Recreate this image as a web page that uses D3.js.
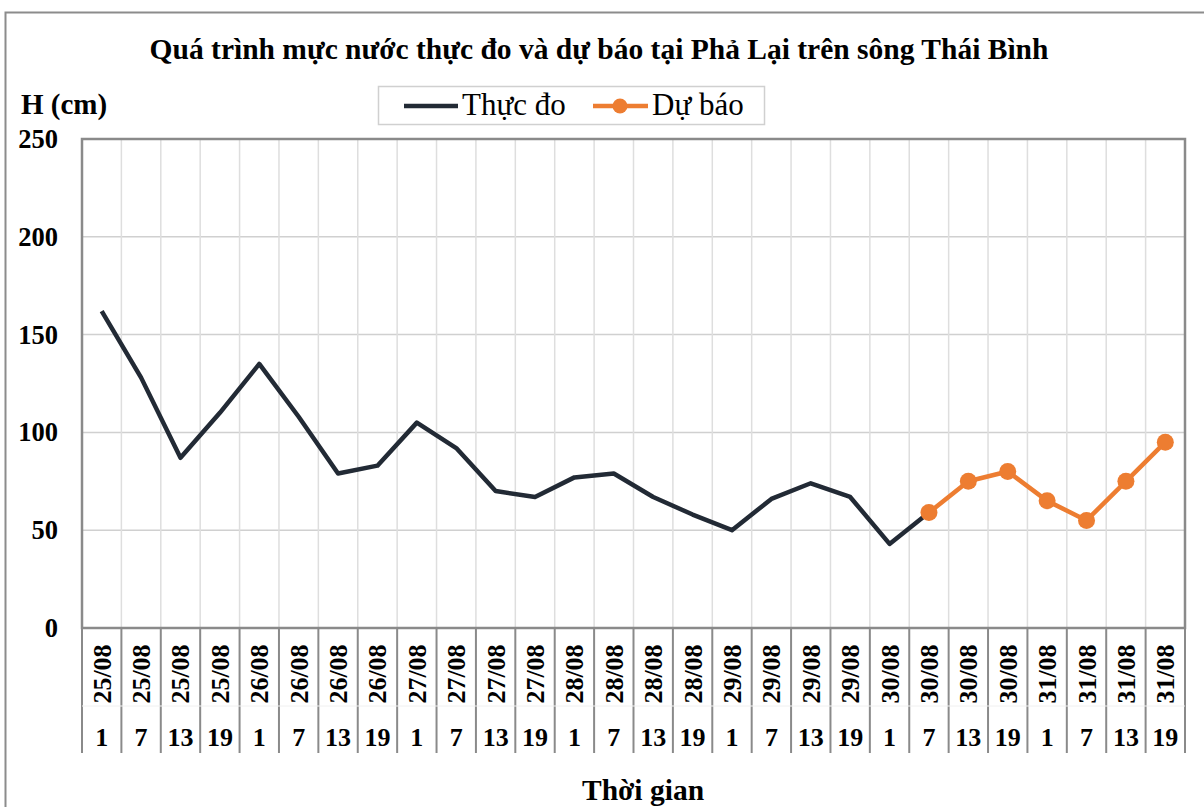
<!DOCTYPE html>
<html>
<head>
<meta charset="utf-8">
<script src="https://cdn.jsdelivr.net/npm/d3@7"></script>
<style>
  body { margin: 0; background: #fff; }
  svg text { font-family: "Liberation Serif", "Times New Roman", serif; fill: #000; }
</style>
</head>
<body>
<svg id="chart" width="1204" height="807"></svg>
<script>
// dates and hours for each category
const dates = ["25/08","25/08","25/08","25/08","26/08","26/08","26/08","26/08",
               "27/08","27/08","27/08","27/08","28/08","28/08","28/08","28/08",
               "29/08","29/08","29/08","29/08","30/08","30/08","30/08","30/08",
               "31/08","31/08","31/08","31/08"]
const hours = ["1","7","13","19","1","7","13","19","1","7","13","19","1","7","13","19",
               "1","7","13","19","1","7","13","19","1","7","13","19"]

// Thực đo (observed), null where missing
const observed = [162, 128, 87, 110, 135, 108, 79, 83, 105, 92, 70, 67, 77, 79, 67, 58,
                  50, 66, 74, 67, 43, 59, null, null, null, null, null, null]
// Dự báo (forecast)
const forecast = [null, null, null, null, null, null, null, null, null, null, null, null,
                  null, null, null, null, null, null, null, null, null, 59, 75, 80, 65, 55, 75, 95]

const yTicks = [0, 50, 100, 150, 200, 250]

const svg = d3.select("#chart")

const plotL = 82, plotR = 1185, plotT = 139, plotB = 628

// outer chart border
svg.append("rect")
    .attr("x", 5.5).attr("y", 12.5)
    .attr("width", 1210).attr("height", 810)
    .attr("fill", "none").attr("stroke", "#8c8c8c").attr("stroke-width", 2)

// scales
const idx = d3.range(dates.length)
const xBand = d3.scaleBand().domain(idx).range([plotL, plotR])
const xScale = d => xBand(d) + xBand.bandwidth() / 2
const yScale = d3.scaleLinear().domain([0, 250]).range([plotB, plotT])

// horizontal gridlines
svg.append("g")
    .selectAll("line")
    .data(yTicks)
    .join("line")
    .attr("x1", plotL).attr("x2", plotR)
    .attr("y1", d => yScale(d)).attr("y2", d => yScale(d))
    .attr("stroke", "#d0d0d0").attr("stroke-width", 1.5)

// vertical gridlines at category boundaries
svg.append("g")
    .selectAll("line")
    .data(idx.slice(1))
    .join("line")
    .attr("x1", d => xBand(d)).attr("x2", d => xBand(d))
    .attr("y1", plotT).attr("y2", plotB)
    .attr("stroke", "#dedede").attr("stroke-width", 1.5)

// plot border
svg.append("rect")
    .attr("x", plotL).attr("y", plotT)
    .attr("width", plotR - plotL).attr("height", plotB - plotT)
    .attr("fill", "none").attr("stroke", "#8a8a8a").attr("stroke-width", 2.5)

// category separators below the axis
svg.append("g")
    .selectAll("line")
    .data(idx.concat([dates.length]))
    .join("line")
    .attr("x1", d => d < dates.length ? xBand(d) : plotR)
    .attr("x2", d => d < dates.length ? xBand(d) : plotR)
    .attr("y1", plotB).attr("y2", 753)
    .attr("stroke", "#8a8a8a").attr("stroke-width", 2)

// faint line between date row and hour row
svg.append("line")
    .attr("x1", plotL).attr("x2", plotR)
    .attr("y1", 706).attr("y2", 706)
    .attr("stroke", "#f0f0f0").attr("stroke-width", 1)

// y tick labels
svg.append("g")
    .selectAll("text")
    .data(yTicks)
    .join("text")
    .attr("x", 58)
    .attr("y", d => yScale(d) + 9)
    .attr("text-anchor", "end")
    .attr("font-size", 26.5).attr("font-weight", "bold")
    .text(d => d)

// date labels (rotated)
svg.append("g")
    .selectAll("text")
    .data(idx)
    .join("text")
    .attr("transform", d => `translate(${xScale(d) + 9},674) rotate(-90)`)
    .attr("text-anchor", "middle")
    .attr("font-size", 26).attr("font-weight", "bold")
    .text(d => dates[d])

// hour labels
svg.append("g")
    .selectAll("text")
    .data(idx)
    .join("text")
    .attr("x", d => xScale(d))
    .attr("y", 746)
    .attr("text-anchor", "middle")
    .attr("font-size", 26).attr("font-weight", "bold")
    .text(d => hours[d])

// lines
const line = d3.line()
    .defined(d => d[1] != null)
    .x(d => xScale(d[0]))
    .y(d => yScale(d[1]))

svg.append("path")
    .datum(idx.map(i => [i, observed[i]]))
    .attr("d", line)
    .attr("fill", "none")
    .attr("stroke", "#222a35").attr("stroke-width", 4.5)
    .attr("stroke-linejoin", "round")

svg.append("path")
    .datum(idx.map(i => [i, forecast[i]]))
    .attr("d", line)
    .attr("fill", "none")
    .attr("stroke", "#ed7d31").attr("stroke-width", 4.5)
    .attr("stroke-linejoin", "round")

svg.append("g")
    .selectAll("circle")
    .data(idx.filter(i => forecast[i] != null))
    .join("circle")
    .attr("cx", d => xScale(d))
    .attr("cy", d => yScale(forecast[d]))
    .attr("r", 8.5)
    .attr("fill", "#ed7d31")

// title
svg.append("text")
    .attr("x", 599).attr("y", 59)
    .attr("text-anchor", "middle")
    .attr("font-size", 29.5).attr("font-weight", "bold")
    .text("Quá trình mực nước thực đo và dự báo tại Phả Lại trên sông Thái Bình")

// y axis title
svg.append("text")
    .attr("x", 21).attr("y", 114)
    .attr("font-size", 29).attr("font-weight", "bold")
    .text("H (cm)")

// x axis title
svg.append("text")
    .attr("x", 643).attr("y", 800)
    .attr("text-anchor", "middle")
    .attr("font-size", 29.5).attr("font-weight", "bold")
    .text("Thời gian")

// legend
const legend = svg.append("g")
legend.append("rect")
    .attr("x", 378.5).attr("y", 86.5)
    .attr("width", 386).attr("height", 38)
    .attr("fill", "#fff").attr("stroke", "#d0d0d0").attr("stroke-width", 1.5)
legend.append("line")
    .attr("x1", 404).attr("x2", 458).attr("y1", 106).attr("y2", 106)
    .attr("stroke", "#222a35").attr("stroke-width", 4.5)
legend.append("text")
    .attr("x", 462).attr("y", 115)
    .attr("font-size", 31)
    .text("Thực đo")
legend.append("line")
    .attr("x1", 593).attr("x2", 648).attr("y1", 106).attr("y2", 106)
    .attr("stroke", "#ed7d31").attr("stroke-width", 4.5)
legend.append("circle")
    .attr("cx", 620).attr("cy", 106).attr("r", 7.5)
    .attr("fill", "#ed7d31")
legend.append("text")
    .attr("x", 652).attr("y", 115)
    .attr("font-size", 31)
    .text("Dự báo")
</script>
</body>
</html>
